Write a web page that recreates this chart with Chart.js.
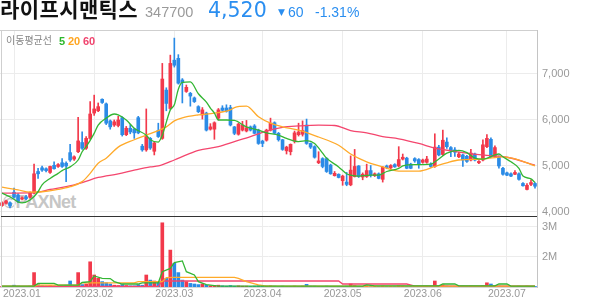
<!DOCTYPE html>
<html>
<head>
<meta charset="utf-8">
<script src="https://cdn.jsdelivr.net/npm/chart.js@4.4.0/dist/chart.umd.min.js"></script>
<style>
  body { margin: 0; width: 594px; height: 304px; background: #fff; position: relative; overflow: hidden; }
  .t { position: absolute; white-space: nowrap; }
  #wm { left: 3px; top: 193px; font: bold 18px "Liberation Sans", sans-serif; color: #c6c6c6; letter-spacing: -0.8px; line-height: 18px; }
  #chart { position: absolute; left: 0; top: 0; }
  #name { left: 0; top: -2px; font: 700 21px "Noto Sans CJK KR", sans-serif; line-height: 21px; color: #111; letter-spacing: 0.4px; }
  #code { left: 145px; top: 5px; font: 14.5px "Liberation Sans", sans-serif; line-height: 14.5px; color: #9a9a9a; }
  #price { left: 208px; top: 0px; font: 20.5px "DejaVu Sans", sans-serif; line-height: 20.5px; color: #2a8ef0; }
  #arrow { left: 278px; top: 8px; font: 9px "DejaVu Sans", sans-serif; line-height: 9px; color: #2a8ef0; }
  #diff { left: 288px; top: 5px; font: 14px "Liberation Sans", sans-serif; line-height: 14px; color: #2a8ef0; }
  #rate { left: 315px; top: 5px; font: 14px "Liberation Sans", sans-serif; line-height: 14px; color: #2a8ef0; }
  #maLabel { left: 6px; top: 35px; font: 10px "Noto Sans CJK KR", sans-serif; line-height: 10px; color: #888; }
  .ma { top: 36px; font: 600 11px "Liberation Sans", sans-serif; line-height: 11px; }
</style>
</head>
<body>
<div id="wm" class="t">©PAXNet</div>
<canvas id="chart" width="594" height="304"></canvas>
<div id="name" class="t">라이프시맨틱스</div>
<div id="code" class="t">347700</div>
<div id="price" class="t">4,520</div>
<div id="arrow" class="t">▼</div>
<div id="diff" class="t">60</div>
<div id="rate" class="t">-1.31%</div>
<div id="maLabel" class="t">이동평균선</div>
<div class="t ma" style="left:59px;color:#2db82d">5</div>
<div class="t ma" style="left:68px;color:#ffa520">20</div>
<div class="t ma" style="left:83px;color:#f0446e">60</div>
<script>
// daily candles, 2022-12 end .. 2023-07-12
const open = [4140, 4190, 4200, 4430, 4370, 4280, 4330, 4320, 4410, 4880,
  4960, 4940, 4860, 5015, 4990, 5070, 5060, 5290, 5150, 5310,
  5510, 5385, 5600, 6150, 6200, 6450, 6350, 5980, 5890, 5880,
  6050, 5680, 5820, 5800, 6050, 5430, 5350, 5600, 5320, 5770,
  5600, 6650, 6250, 7300, 7340, 6870, 6620, 6580, 6480, 6290,
  6110, 6150, 5800, 5800, 6040, 6260, 6260, 6270, 5850, 5690,
  5780, 5760, 5850, 5870, 5780, 5540, 5560, 5780, 5940, 5710,
  5570, 5330, 5310, 5540, 5680, 5690, 5890, 5490, 5420, 5070,
  5160, 5160, 5020, 4790, 4820, 4680, 4650, 4590, 4770, 5000,
  4760, 4770, 4900, 4790, 4830, 4710, 5000, 4960, 5030, 5000,
  5150, 5170, 5040, 5160, 5140, 5080, 5080, 5040, 4990, 5410,
  5250, 5520, 5400, 5350, 5200, 5240, 5210, 5130, 5260, 5070,
  5130, 5420, 5580, 5200, 5200, 4950, 4850, 4830, 4820, 4830,
  4620, 4490, 4600, 4620];
const high = [4220, 4260, 4220, 4520, 4400, 4330, 4360, 4440, 5040, 4950,
  5000, 4960, 5000, 5090, 5050, 5160, 5090, 5470, 5220, 6060,
  5745, 5640, 6400, 6540, 6370, 6460, 6370, 6000, 6000, 6080,
  6070, 5860, 5900, 5820, 6080, 5470, 6240, 5620, 5520, 5930,
  7230, 6700, 7410, 7780, 7420, 6900, 6760, 6600, 6500, 6310,
  6270, 6170, 5920, 5960, 6250, 6310, 6330, 6320, 5860, 5930,
  5970, 5990, 5870, 5900, 5800, 5560, 5800, 6040, 5960, 5730,
  5580, 5430, 5480, 5760, 5930, 5980, 6020, 5500, 5440, 5310,
  5180, 5180, 5040, 4880, 4830, 4800, 4860, 5220, 5360, 5010,
  4850, 5040, 5010, 4850, 4850, 4990, 5020, 5030, 5050, 5420,
  5260, 5190, 5060, 5180, 5160, 5150, 5210, 5070, 5700, 5450,
  5780, 5610, 5420, 5400, 5300, 5260, 5230, 5360, 5280, 5120,
  5570, 5680, 5610, 5440, 5220, 4970, 4870, 4850, 4900, 4850,
  4640, 4620, 4700, 4640];
const low = [4120, 4170, 4090, 4300, 4200, 4260, 4270, 4300, 4390, 4730,
  4880, 4870, 4840, 4930, 4970, 4970, 4660, 5100, 5120, 5290,
  5360, 5360, 5580, 6100, 6180, 6360, 5900, 5800, 5860, 5850,
  5650, 5660, 5700, 5600, 5700, 5320, 5320, 5360, 5240, 5620,
  5580, 6200, 6230, 7150, 6780, 6370, 6600, 6300, 6380, 6160,
  6020, 5760, 5780, 5580, 6000, 6190, 6170, 5870, 5680, 5670,
  5760, 5740, 5760, 5700, 5470, 5420, 5540, 5760, 5700, 5540,
  5340, 5260, 5240, 5500, 5650, 5650, 5470, 5380, 5170, 5050,
  4960, 4860, 4820, 4780, 4740, 4580, 4570, 4570, 4760, 4750,
  4700, 4750, 4760, 4770, 4720, 4650, 4940, 4940, 4970, 4980,
  5130, 4940, 4940, 5080, 4950, 5060, 5060, 4970, 4970, 5220,
  5230, 5380, 5200, 5210, 5180, 4990, 5080, 5110, 5110, 5050,
  5110, 5400, 5180, 5180, 4950, 4800, 4790, 4770, 4810, 4690,
  4560, 4480, 4570, 4520];
const close = [4200, 4240, 4130, 4320, 4230, 4310, 4290, 4420, 4830, 4830,
  4910, 4900, 4990, 4940, 5030, 4990, 5000, 5130, 5200, 5545,
  5385, 5600, 6130, 6240, 6290, 6380, 5930, 5850, 5960, 6000,
  5680, 5820, 5740, 5720, 5720, 5350, 5640, 5390, 5500, 5640,
  6890, 6360, 7230, 7190, 6800, 6810, 6710, 6520, 6400, 6180,
  6220, 5780, 5850, 5940, 6220, 6210, 6190, 5890, 5710, 5910,
  5890, 5830, 5780, 5710, 5490, 5490, 5780, 5930, 5710, 5570,
  5360, 5410, 5470, 5720, 5740, 5770, 5490, 5410, 5190, 5110,
  4990, 4880, 4830, 4840, 4750, 4780, 4600, 4910, 4990, 4770,
  4820, 4900, 4800, 4830, 4730, 4970, 4960, 5010, 4980, 5140,
  5190, 4950, 4950, 5110, 5050, 5130, 5150, 4990, 5410, 5240,
  5560, 5420, 5330, 5300, 5260, 5130, 5100, 5280, 5130, 5100,
  5460, 5600, 5200, 5400, 5000, 4820, 4800, 4780, 4860, 4710,
  4570, 4580, 4640, 4560];
// volume in millions of shares (axis reads 2M / 3M)
const volume = [1.02, 1.02, 1.02, 1.06, 1.03, 1.02, 1.02, 1.03, 1.48, 1.08,
  1.05, 1.04, 1.05, 1.04, 1.03, 1.04, 1.06, 1.2, 1.05, 1.48,
  1.08, 1.1, 1.84, 1.4, 1.29, 1.18, 1.14, 1.1, 1.06, 1.05,
  1.08, 1.05, 1.04, 1.04, 1.08, 1.06, 1.4, 1.23, 1.2, 1.18,
  3.14, 1.29, 2.23, 1.79, 1.48, 1.23, 1.18, 1.12, 1.1, 1.08,
  1.1, 1.06, 1.04, 1.05, 1.06, 1.04, 1.03, 1.05, 1.03, 1.04,
  1.03, 1.03, 1.02, 1.03, 1.04, 1.02, 1.03, 1.04, 1.03, 1.02,
  1.03, 1.02, 1.02, 1.03, 1.02, 1.03, 1.09, 1.03, 1.03, 1.02,
  1.02, 1.03, 1.02, 1.02, 1.02, 1.02, 1.03, 1.1, 1.05, 1.03,
  1.02, 1.03, 1.02, 1.02, 1.02, 1.03, 1.02, 1.02, 1.02, 1.04,
  1.03, 1.02, 1.02, 1.02, 1.02, 1.02, 1.02, 1.02, 1.2, 1.05,
  1.07, 1.04, 1.03, 1.03, 1.03, 1.03, 1.02, 1.03, 1.02, 1.02,
  1.04, 1.14, 1.1, 1.05, 1.04, 1.03, 1.03, 1.02, 1.02, 1.03,
  1.02, 1.03, 1.02, 1.02];

// moving averages: [candle index, value]
const ma5 = [[0, 4410], [2, 4330], [4, 4220], [5, 4200], [7, 4260], [9, 4440], [10, 4590], [12, 4730],
  [14, 4840], [15, 4900], [17, 4980], [19, 5130], [20, 5310], [21, 5420], [23, 5710], [24, 5890],
  [26, 6040], [28, 6130], [29, 6110], [31, 6000], [33, 5820], [36, 5670], [37, 5570], [39, 5520],
  [40, 5670], [42, 6220], [43, 6330], [44, 6670], [45, 6815], [47, 6830], [49, 6570], [51, 6390],
  [52, 6260], [53, 6150], [54, 6000], [56, 6000], [58, 5990], [61, 5850], [64, 5780], [66, 5720],
  [69, 5670], [71, 5600], [74, 5530], [76, 5550], [78, 5490], [80, 5280], [81, 5170], [84, 4980],
  [86, 4830], [87, 4800], [89, 4780], [92, 4800], [94, 4800], [96, 4880], [99, 4950], [100, 5000],
  [103, 5030], [105, 5030], [107, 5040], [109, 5150], [111, 5280], [114, 5340], [116, 5290],
  [118, 5170], [120, 5150], [123, 5240], [124, 5260], [125, 5200], [127, 5090], [129, 4950],
  [130, 4780], [132, 4720], [133, 4640]];
const ma20 = [[0, 4540], [4, 4480], [7, 4430], [10, 4440], [14, 4490], [17, 4550], [20, 4660],
  [22, 4840], [24, 5060], [26, 5170], [29, 5410], [33, 5570], [36, 5670], [39, 5770], [41, 5850],
  [43, 5980], [45, 6045], [49, 6110], [53, 6150], [57, 6220], [58, 6270], [61, 6300], [64, 6070],
  [67, 5930], [70, 5850], [74, 5780], [79, 5630], [84, 5450], [87, 5260], [91, 5090], [95, 4980],
  [99, 4890], [104, 4890], [108, 4990], [111, 5070], [114, 5130], [120, 5150], [125, 5200],
  [129, 5130], [133, 5000]];
const ma60 = [[0, 4410], [8, 4420], [12, 4490], [16, 4550], [20, 4640], [24, 4750], [29, 4830],
  [33, 4910], [37, 4980], [39, 5000], [43, 5130], [46, 5240], [49, 5340], [54, 5420], [58, 5530],
  [62, 5640], [66, 5760], [70, 5840], [74, 5870], [79, 5890], [83, 5880], [87, 5770], [91, 5720],
  [95, 5640], [99, 5590], [104, 5490], [108, 5390], [112, 5330], [116, 5280], [121, 5230],
  [126, 5190], [133, 5020]];
const vma5 = [[0, 1.03], [8, 1.03], [9, 1.12], [13, 1.12], [14, 1.06], [19, 1.06], [20, 1.15],
  [22, 1.18], [23, 1.37], [25, 1.29], [27, 1.28], [28, 1.18], [30, 1.1], [34, 1.1], [35, 1.14],
  [39, 1.14], [40, 1.51], [42, 1.62], [43, 1.81], [45, 1.87], [46, 1.51], [48, 1.4], [49, 1.18],
  [51, 1.08], [54, 1.03], [90, 1.03], [91, 1.07], [93, 1.04], [109, 1.04], [110, 1.1], [113, 1.1],
  [114, 1.04], [123, 1.04], [124, 1.1], [126, 1.1], [127, 1.03], [133, 1.03]];
const vma20 = [[0, 1.03], [8, 1.03], [9, 1.06], [19, 1.06], [20, 1.14], [33, 1.14], [34, 1.18],
  [40, 1.18], [41, 1.31], [43, 1.32], [58, 1.32], [59, 1.29], [61, 1.18], [64, 1.07], [66, 1.03],
  [133, 1.03]];
const vma60 = [[0, 1.02], [39, 1.02], [40, 1.2], [84, 1.2], [85, 1.1], [101, 1.1], [103, 1.03],
  [133, 1.03]];

const monthStart = [3, 23, 43, 65, 85, 105, 126];
const monthLabels = ["2023.01", "2023.02", "2023.03", "2023.04", "2023.05", "2023.06", "2023.07"];
const priceTicks = [4000, 5000, 6000, 7000];
const volumeTicks = [2, 3];

const RED = "#f2394b";
const BLUE = "#2b8be6";
const GRID = "#ececec";
const candleColor = close.map((c, i) => (c >= open[i] ? RED : BLUE));

function maLine(points, color, axis, smooth) {
  return {
    type: "line",
    data: points.map(([x, y]) => ({ x: x, y: y })),
    yAxisID: axis,
    borderColor: color,
    borderWidth: 1.3,
    pointRadius: 0,
    cubicInterpolationMode: smooth ? "monotone" : "default",
    tension: 0,
    order: 0,
  };
}

// frame lines and month labels
const framePlugin = {
  id: "frame",
  afterDraw(chart) {
    const { ctx, chartArea } = chart;
    const x = chart.scales.x;
    const y = chart.scales.y;
    ctx.save();
    ctx.fillStyle = "#cfcfcf";
    ctx.fillRect(0, chartArea.top, chartArea.right, 1);
    ctx.fillRect(1, chartArea.top, 1, chartArea.bottom - chartArea.top);
    ctx.fillStyle = "#333";
    ctx.fillRect(1, Math.round(y.bottom) - 1, chartArea.right - 1, 1);

    ctx.font = '10.5px "Liberation Sans", sans-serif';
    ctx.fillStyle = "#999";
    ctx.textBaseline = "middle";
    ctx.textAlign = "left";
    monthStart.forEach((idx, k) => {
      const w = ctx.measureText(monthLabels[k]).width;
      const cx = Math.max(x.getPixelForValue(idx), 3 + w / 2);
      ctx.fillText(monthLabels[k], cx - w / 2, chartArea.bottom + 7);
    });
    ctx.restore();
  },
};

new Chart(document.getElementById("chart"), {
  data: {
    labels: close.map((_, i) => i),
    datasets: [
      maLine(ma5, "#33b633", "y", true),
      maLine(ma20, "#ffaa2a", "y", true),
      maLine(ma60, "#f4466e", "y", true),
      maLine(vma5, "#33b633", "yv", false),
      maLine(vma20, "#ffaa2a", "yv", false),
      maLine(vma60, "#f4466e", "yv", false),
      {
        type: "bar",
        data: open.map((o, i) => [o, close[i]]),
        yAxisID: "y",
        backgroundColor: candleColor,
        barThickness: 3,
        minBarLength: 1,
        grouped: false,
        order: 1,
      },
      {
        type: "bar",
        data: low.map((l, i) => [l, high[i]]),
        yAxisID: "y",
        backgroundColor: candleColor,
        barThickness: 1,
        grouped: false,
        order: 2,
      },
      {
        type: "bar",
        data: volume,
        yAxisID: "yv",
        backgroundColor: candleColor,
        barThickness: 3,
        grouped: false,
        order: 1,
      },
    ],
  },
  options: {
    responsive: false,
    animation: false,
    events: [],
    layout: { padding: { top: 30, bottom: 17, left: 0, right: 0 } },
    plugins: { legend: { display: false }, tooltip: { enabled: false } },
    scales: {
      x: {
        type: "category",
        offset: true,
        ticks: { display: false, autoSkip: false },
        grid: {
          offset: false,
          drawTicks: false,
          color: (c) => (monthStart.includes(c.index) ? GRID : "rgba(0,0,0,0)"),
        },
        border: { display: true, color: "#d6d6d6" },
      },
      y: {
        position: "right",
        stack: "pane",
        stackWeight: 187,
        min: 3891,
        max: 7956,
        afterFit: (s) => { s.width = 57; },
        afterBuildTicks: (s) => { s.ticks = priceTicks.map((v) => ({ value: v })); },
        ticks: {
          callback: (v) => v.toLocaleString("en-US"),
          color: "#999",
          padding: 5,
          font: { size: 11, family: "Liberation Sans" },
        },
        grid: { color: GRID, drawTicks: false },
        border: { color: "#c4c4c4" },
      },
      yv: {
        position: "right",
        stack: "pane",
        stackWeight: 70,
        min: 1,
        max: 3.333,
        afterFit: (s) => { s.width = 57; },
        afterBuildTicks: (s) => { s.ticks = volumeTicks.map((v) => ({ value: v })); },
        ticks: {
          callback: (v) => v + "M",
          color: "#999",
          padding: 5,
          font: { size: 11, family: "Liberation Sans" },
        },
        grid: { color: GRID, drawTicks: false },
        border: { color: "#c4c4c4" },
      },
    },
  },
  plugins: [framePlugin],
});
</script>
</body>
</html>
